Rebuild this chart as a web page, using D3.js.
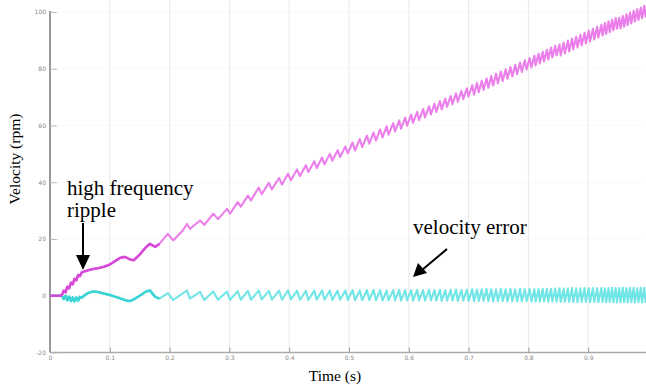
<!DOCTYPE html>
<html><head><meta charset="utf-8">
<script src="https://cdn.jsdelivr.net/npm/d3@7"></script>
<style>html,body{margin:0;padding:0;background:#fff;}svg{display:block;}</style>
</head><body>
<svg id="c" width="646" height="385"></svg>
<script>
// ---- data ----
const xTicks = [0, 0.1, 0.2, 0.3, 0.4, 0.5, 0.6, 0.7, 0.8, 0.9];
const yTicks = [-20, 0, 20, 40, 60, 80, 100];
const time = [
0.000,0.017,0.020,0.023,0.026,0.029,0.032,0.035,0.038,0.041,0.044,0.047,0.050,0.053,0.058,0.064,0.072,0.080,0.090,0.100,
0.110,0.118,0.125,0.133,0.140,0.150,0.160,0.167,0.176,0.183,0.197,0.206,0.222,0.229,0.234,0.251,0.258,0.273,0.281,0.296,
0.301,0.314,0.319,0.331,0.336,
0.349,0.354,0.366,0.371,0.383,0.388,0.398,0.403,0.413,0.418,0.428,0.432,0.442,0.446,0.455,0.459,0.468,0.472,0.481,0.485,0.494,0.498,
0.506,0.510,0.518,0.522,0.530,0.534,0.541,0.545,0.552,0.556,0.563,0.566,0.574,0.577,0.584,0.587,0.594,0.597,0.604,0.607,
0.614,0.617,0.624,0.627,0.634,0.637,0.643,0.646,0.652,0.655,0.661,0.664,0.670,0.673,0.679,0.682,0.688,0.691,0.697,0.700,
0.706,0.709,0.714,0.717,0.722,0.725,0.730,0.733,0.738,0.741,0.746,0.749,0.754,0.757,0.762,0.765,0.770,0.773,0.778,0.781,
0.786,0.789,0.794,0.797,0.802,0.805,0.810,0.812,0.817,0.819,0.824,0.826,0.831,0.833,0.838,0.840,0.845,0.847,
0.852,0.854,0.859,0.861,0.866,0.868,0.873,0.875,0.880,0.882,0.887,0.889,0.894,0.896,0.901,0.903,0.908,0.910,0.915,0.917,
0.922,0.924,0.928,0.930,0.934,0.936,0.940,0.942,0.946,0.948,
0.952,0.954,0.958,0.960,0.964,0.966,0.970,0.972,0.976,0.978,0.982,0.984,0.988,0.990,0.994,0.996,1.000];
const velocity = [
0.0,0.0,0.3,1.8,1.2,3.2,2.6,4.6,4.0,6.0,5.4,7.3,6.9,8.2,8.6,9.0,9.4,9.7,10.2,11.0,
12.4,13.4,13.7,12.9,12.5,14.5,17.0,18.3,17.2,18.3,21.8,19.5,23.0,25.3,23.6,26.5,25.0,28.9,27.0,30.6,
28.9,33.0,31.4,35.3,33.6,
38.1,35.8,39.8,37.5,41.5,39.2,43.0,40.7,44.5,42.2,46.0,43.6,47.4,45.0,48.7,46.3,50.0,47.6,51.3,48.9,52.6,50.2,
54.0,51.2,55.2,52.4,56.4,53.6,57.5,54.7,58.6,55.8,59.7,56.8,60.8,57.9,61.8,58.9,62.8,59.9,63.8,60.9,
64.8,61.9,65.8,62.9,66.8,63.9,67.7,64.8,68.6,65.7,69.5,66.6,70.4,67.5,71.3,68.4,72.2,69.3,73.1,70.2,
74.2,70.9,75.0,71.7,75.8,72.5,76.6,73.3,77.4,74.1,78.2,74.9,79.0,75.7,79.8,76.5,80.6,77.3,81.4,78.1,
82.2,78.9,83.0,79.7,83.8,80.5,84.6,81.2,85.3,81.9,86.0,82.6,86.7,83.3,87.4,84.0,88.1,84.7,
88.5,84.7,89.2,85.4,89.9,86.1,90.6,86.8,91.3,87.5,92.0,88.2,92.7,88.9,93.4,89.6,94.1,90.3,94.8,91.0,
95.5,91.7,96.1,92.3,96.7,92.9,97.3,93.5,97.9,94.1,
98.0,94.2,98.6,94.8,99.2,95.4,99.8,96.0,100.4,96.6,101.0,97.2,101.6,97.8,102.2,98.4,102.8];
const error = [
0.0,0.0,-0.1,-1.2,0.0,-1.6,-0.3,-1.9,-0.6,-2.0,-0.6,-1.7,-0.4,-0.7,0.2,1.0,1.5,1.3,0.8,0.3,
-0.4,-1.0,-1.5,-1.9,-1.3,0.0,1.4,1.9,-0.4,-1.0,0.9,-1.5,0.8,1.9,-1.0,1.4,-1.5,1.5,-1.4,1.5,
-1.4,1.6,-1.4,1.7,-1.4,
1.8,-1.3,1.7,-1.4,1.8,-1.4,1.9,-1.3,1.8,-1.4,1.7,-1.5,1.8,-1.4,1.9,-1.4,1.8,-1.5,1.8,-1.4,1.9,-1.5,
2.0,-1.6,1.9,-1.6,2.0,-1.5,2.1,-1.6,2.0,-1.7,1.9,-1.6,2.0,-1.6,2.1,-1.7,2.0,-1.6,2.0,-1.7,
2.1,-1.6,2.0,-1.7,2.1,-1.6,2.0,-1.7,2.1,-1.8,2.0,-1.7,2.1,-1.7,2.2,-1.8,2.1,-1.7,2.2,-1.8,
2.3,-1.9,2.2,-1.9,2.3,-1.8,2.4,-1.9,2.3,-2.0,2.3,-1.9,2.4,-1.9,2.3,-2.0,2.4,-1.9,2.3,-2.0,
2.4,-2.0,2.3,-1.9,2.4,-2.0,2.3,-2.0,2.4,-2.1,2.5,-2.0,2.4,-2.1,2.5,-2.0,2.5,-2.1,
2.6,-2.2,2.5,-2.1,2.6,-2.2,2.7,-2.2,2.6,-2.3,2.6,-2.2,2.7,-2.2,2.6,-2.3,2.7,-2.2,2.6,-2.3,
2.7,-2.2,2.6,-2.3,2.7,-2.2,2.8,-2.3,2.7,-2.4,
2.7,-2.3,2.8,-2.3,2.7,-2.4,2.8,-2.3,2.8,-2.4,2.7,-2.3,2.8,-2.4,2.8,-2.3,2.7];

// ---- chart ----
const W = 646, H = 385;
const svg = d3.select("#c");
const x = d3.scaleLinear().domain([0, 1]).range([50, 648]);
const y = d3.scaleLinear().domain([-20, 100]).range([352.5, 12]);

const defs = svg.append("defs");
defs.append("filter").attr("id", "soft").append("feGaussianBlur").attr("stdDeviation", 0.35);

// grid
svg.append("g").selectAll("line").data(xTicks.slice(1)).join("line")
  .attr("x1", d => x(d)).attr("x2", d => x(d)).attr("y1", 0).attr("y2", y(-20))
  .attr("stroke", "#e9e9e9").attr("stroke-width", 1);
svg.append("g").selectAll("line").data(yTicks.slice(1)).join("line")
  .attr("x1", x(0)).attr("x2", W).attr("y1", d => y(d)).attr("y2", d => y(d))
  .attr("stroke", "#f2f2f2").attr("stroke-width", 1).attr("stroke-dasharray", "2,2");

// axes
const gx = svg.append("g").attr("transform", `translate(0,${y(-20)})`)
  .call(d3.axisBottom(x).tickValues(xTicks).tickSize(-5).tickPadding(3).tickFormat(d => d));
gx.select(".domain").attr("d", `M${x(0)},0H${W}`).attr("stroke", "#aaa").attr("stroke-width", 1.5);
gx.selectAll(".tick line").attr("stroke", "#999");
gx.selectAll("text").attr("font-family", "DejaVu Sans").attr("font-size", 6).attr("fill", "#888");

const gy = svg.append("g").attr("transform", `translate(${x(0)},0)`)
  .call(d3.axisLeft(y).tickValues(yTicks).tickSize(-7).tickPadding(4).tickFormat(d => d));
gy.select(".domain").attr("d", `M0,${y(100) - 1}V${y(-20)}`).attr("stroke", "#999").attr("stroke-width", 2);
gy.selectAll(".tick line").attr("stroke", "#bbb");
gy.selectAll("text").attr("font-family", "DejaVu Sans").attr("font-size", 6).attr("fill", "#888");

// series
const idx = d3.range(time.length);
const early = idx.filter(i => time[i] <= 0.19);
const lineV = d3.line().x(i => x(time[i])).y(i => y(velocity[i]));
const lineE = d3.line().x(i => x(time[i])).y(i => y(error[i]));
const gs = svg.append("g").attr("filter", "url(#soft)");
gs.append("path").attr("d", lineE(idx)).attr("fill", "none")
  .attr("stroke", "#72e6e6").attr("stroke-width", 2.1).attr("stroke-linejoin", "round");
gs.append("path").attr("d", lineE(early)).attr("fill", "none")
  .attr("stroke", "#3ad4d4").attr("stroke-width", 2.6).attr("stroke-linejoin", "round");
gs.append("path").attr("d", lineV(idx)).attr("fill", "none")
  .attr("stroke", "#ec7eec").attr("stroke-width", 2.1).attr("stroke-linejoin", "round");
gs.append("path").attr("d", lineV(early)).attr("fill", "none")
  .attr("stroke", "#d64ad6").attr("stroke-width", 2.6).attr("stroke-linejoin", "round");

// titles
const serif = "Liberation Serif, Times New Roman, serif";
svg.append("text").attr("x", 335).attr("y", 381).attr("text-anchor", "middle")
  .attr("font-family", serif).attr("font-size", 15.5).attr("fill", "#000").text("Time (s)");
svg.append("text").attr("transform", "translate(20,159) rotate(-90)").attr("text-anchor", "middle")
  .attr("font-family", serif).attr("font-size", 15.5).attr("fill", "#000").text("Velocity (rpm)");

// annotations
svg.append("text").attr("x", 67).attr("y", 195).attr("font-family", serif).attr("font-size", 21).text("high frequency");
svg.append("text").attr("x", 67).attr("y", 217).attr("font-family", serif).attr("font-size", 21).text("ripple");
svg.append("text").attr("x", 413).attr("y", 234).attr("font-family", serif).attr("font-size", 21).text("velocity error");

svg.append("line").attr("x1", 83).attr("y1", 223).attr("x2", 83).attr("y2", 258).attr("stroke", "#000").attr("stroke-width", 2);
svg.append("path").attr("d", "M76,255L90,255L83,270Z").attr("fill", "#000");
svg.append("line").attr("x1", 447).attr("y1", 249).attr("x2", 422).attr("y2", 270).attr("stroke", "#000").attr("stroke-width", 2);
svg.append("path").attr("d", "M413,277L418,263L427,273Z").attr("fill", "#000");
</script>
</body></html>
